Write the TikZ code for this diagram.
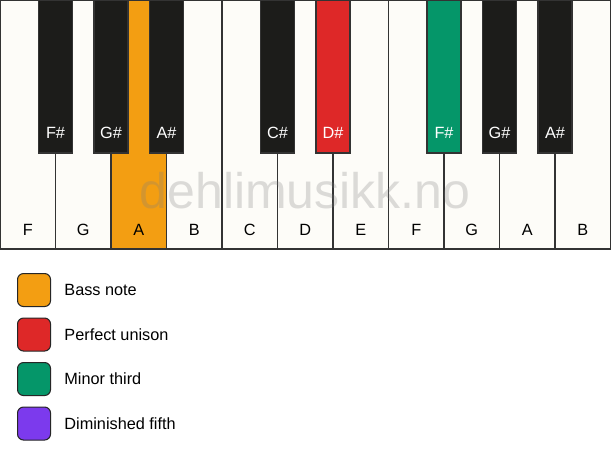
\documentclass[tikz,border=0pt]{standalone}
\usepackage{fontspec}
\setmainfont{Liberation Sans}
\definecolor{keywhite}{HTML}{FDFCF8}
\definecolor{keyblack}{HTML}{1C1C1A}
\definecolor{keyline}{HTML}{333333}
\definecolor{bassnote}{HTML}{F39E12}
\definecolor{unison}{HTML}{DE2828}
\definecolor{minthird}{HTML}{059669}
\definecolor{dimfifth}{HTML}{7C3AED}
\begin{document}
\begin{tikzpicture}
    [x=0.75pt,y=-0.75pt,
    every node/.style={font=\fontsize{12.2}{14.6}\selectfont},
    white key/.style={rectangle,anchor=north west,draw=keyline,line width=0.8pt,fill=keywhite,
        minimum width=41.625pt,minimum height=186.75pt,inner sep=0pt,outer sep=0pt},
    black key/.style={rectangle,anchor=north,draw=keyline,line width=0.8pt,fill=keyblack,
        minimum width=25.5pt,minimum height=114.75pt,inner sep=0pt,outer sep=0pt},
    wtext/.style={yshift=-79.1pt,text=black},
    btext/.style={yshift=-42.4pt,text=white},
    legend/.style={rectangle,rounded corners=4.5pt,draw=black!85,line width=0.8pt,
        minimum size=24.75pt,inner sep=0pt,anchor=north west},
    legtext/.style={label distance=6.5pt,text=black}]

    \fill[white] (0,0) rectangle (611,461);
    \useasboundingbox (0,0) rectangle (611,461);

    % white keys
    \node[white key,label={[wtext]center:F}] (kF) at (0,0) {};
    \node[white key,label={[wtext]center:G}] (kG) at (55.5,0) {};
    \node[white key,fill=bassnote,label={[wtext]center:A}] (kA) at (111,0) {};
    \node[white key,label={[wtext]center:B}] (kB) at (166.5,0) {};
    \node[white key,label={[wtext]center:C}] (kC) at (222,0) {};
    \node[white key,label={[wtext]center:D}] (kD) at (277.5,0) {};
    \node[white key,label={[wtext]center:E}] (kE) at (333,0) {};
    \node[white key,label={[wtext]center:F}] (kF2) at (388.5,0) {};
    \node[white key,label={[wtext]center:G}] (kG2) at (444,0) {};
    \node[white key,label={[wtext]center:A}] (kA2) at (499.5,0) {};
    \node[white key,label={[wtext]center:B}] (kB2) at (555,0) {};

    % black keys
    \node[black key,label={[btext]center:F\#}] (kFs) at (55.5,0) {};
    \node[black key,label={[btext]center:G\#}] (kGs) at (111,0) {};
    \node[black key,label={[btext]center:A\#}] (kAs) at (166.5,0) {};
    \node[black key,label={[btext]center:C\#}] (kCs) at (277.5,0) {};
    \node[black key,fill=unison,label={[btext]center:D\#}] (kDs) at (333,0) {};
    \node[black key,fill=minthird,label={[btext]center:F\#}] (kFs2) at (444,0) {};
    \node[black key,label={[btext]center:G\#}] (kGs2) at (499.5,0) {};
    \node[black key,label={[btext]center:A\#}] (kAs2) at (555,0) {};

    \node[text=black!50,opacity=0.27,font=\fontsize{37.5}{40}\selectfont] (mark) at (305,191) {dehlimusikk.no};

    % legend
    \node[legend,fill=bassnote,label={[legtext]right:Bass note}] (lbass) at (17,273) {};
    \node[legend,fill=unison,label={[legtext]right:Perfect unison}] (lunison) at (17,317.5) {};
    \node[legend,fill=minthird,label={[legtext]right:Minor third}] (lthird) at (17,362) {};
    \node[legend,fill=dimfifth,label={[legtext]right:Diminished fifth}] (lfifth) at (17,406.5) {};
\end{tikzpicture}
\end{document}
